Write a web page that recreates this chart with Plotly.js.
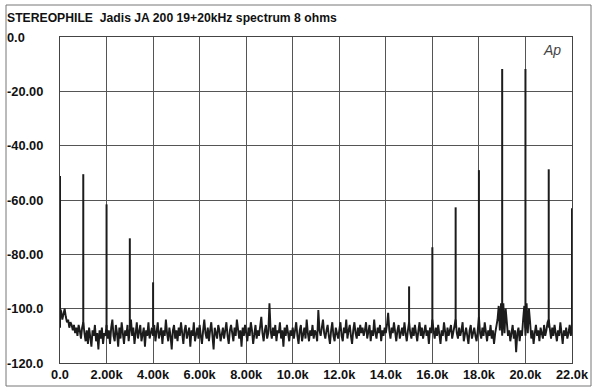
<!DOCTYPE html>
<html>
<head>
<meta charset="utf-8">
<script src="https://cdn.plot.ly/plotly-3.0.1.min.js"></script>
<style>html,body{margin:0;padding:0;background:#fff;}#chart{width:600px;height:390px;}</style>
</head>
<body>
<div id="chart"></div>
<script>
// Noise floor, dB, sampled every 50 Hz from 0 Hz to 22 kHz
const noiseStepHz = 50;
const noiseDb = [
-100,-101,-104,-102,-100,-103,-105,-104,-107,-105,-106,-108,-106,-109,-107,-110,-106,-108,-111,-107,
-105,-109,-112,-108,-113,-107,-111,-114,-108,-110,-106,-112,-109,-115,-108,-111,-107,-113,-109,-110,
-106,-111,-108,-113,-107,-104,-110,-112,-106,-109,-114,-107,-111,-105,-109,-113,-108,-110,-106,-112,
-108,-104,-110,-107,-113,-109,-105,-111,-108,-106,-112,-109,-107,-114,-108,-110,-105,-111,-109,-107,
-110,-106,-112,-108,-105,-111,-109,-107,-113,-108,-110,-104,-109,-112,-107,-110,-115,-108,-106,-111,
-108,-112,-107,-110,-105,-109,-113,-108,-106,-111,-109,-107,-114,-108,-110,-105,-112,-109,-107,-111,
-106,-110,-113,-108,-104,-109,-111,-107,-112,-108,-105,-110,-115,-107,-109,-111,-106,-108,-112,-109,
-107,-111,-108,-105,-110,-113,-108,-106,-109,-112,-107,-110,-104,-109,-111,-108,-114,-107,-110,-106,
-109,-112,-107,-110,-105,-108,-113,-109,-106,-111,-108,-110,-107,-103,-109,-112,-108,-106,-111,-109,
-98,-108,-111,-107,-110,-106,-112,-108,-109,-105,-111,-108,-114,-107,-110,-106,-109,-112,-108,-110,
-107,-111,-108,-105,-110,-113,-108,-106,-112,-109,-107,-111,-104,-109,-112,-108,-110,-106,-111,-108,
-109,-112,-100.5,-108,-110,-107,-104,-109,-111,-108,-106,-110,-113,-108,-105,-110,-112,-107,-109,-111,
-108,-105,-110,-112,-107,-109,-104,-111,-108,-106,-110,-113,-108,-105,-109,-111,-107,-110,-106,-109,
-107,-110,-108,-105,-111,-109,-106,-112,-108,-110,-104,-109,-111,-107,-109,-106,-112,-108,-110,-107,
-109,-106,-101.5,-108,-111,-107,-109,-105,-110,-112,-108,-106,-111,-109,-107,-110,-105,-109,-112,-108,
-105,-109,-111,-107,-110,-106,-109,-112,-108,-105,-110,-107,-111,-109,-106,-110,-108,-113,-107,-109,
-104,-108,-111,-107,-110,-106,-109,-113,-108,-110,-105,-109,-112,-107,-110,-108,-106,-111,-109,-107,
-104,-109,-111,-107,-110,-108,-105,-112,-109,-107,-110,-113,-108,-106,-111,-109,-107,-110,-112,-108,
-103,-109,-111,-107,-110,-105,-109,-112,-108,-110,-106,-111,-108,-113,-109,-107,-104,-99,-108,-98,
-110,-98,-109,-100,-104,-110,-108,-112,-109,-106,-111,-108,-116,-109,-107,-112,-108,-110,-104,-99,
-110,-98,-109,-100,-105,-111,-108,-113,-109,-106,-110,-108,-112,-107,-109,-111,-106,-110,-108,-105,
-104,-109,-111,-107,-110,-106,-109,-112,-108,-110,-105,-109,-113,-108,-110,-107,-111,-109,-106,-110,
-106
];

// Discrete tones / intermodulation products
const peakFreqHz = [0, 1000, 2000, 3000, 4000, 15000, 16000, 17000, 18000, 19000, 20000, 21000, 22000];
const peakDb     = [-51.2, -50.5, -61.6, -74.1, -90.3, -91.8, -77.4, -62.7, -49.0, -11.8, -11.8, -48.7, -63.0];
const peakFloorDb = -107;

const xTickVals = [0, 2000, 4000, 6000, 8000, 10000, 12000, 14000, 16000, 18000, 20000, 22000];
const xTickText = ["0.0", "2.00k", "4.00k", "6.00k", "8.00k", "10.0k", "12.0k", "14.0k", "16.0k", "18.0k", "20.0k", "22.0k"];
const yTickVals = [0, -20, -40, -60, -80, -100, -120];
const yTickText = ["0.0", "-20.00", "-40.00", "-60.00", "-80.00", "-100.0", "-120.0"];

const noiseX = noiseDb.map((_, i) => i * noiseStepHz);
const px = [], py = [];
peakFreqHz.forEach((f, i) => { px.push(f, f, null); py.push(peakFloorDb, peakDb[i], null); });

const FONT = '"Liberation Sans", Arial, Helvetica, sans-serif';
const ink = '#1c1c1c';

const traces = [
  {x: noiseX, y: noiseDb, type: 'scatter', mode: 'lines', line: {color: ink, width: 1.9}, hoverinfo: 'skip'},
  {x: px, y: py, type: 'scatter', mode: 'lines', line: {color: ink, width: 2}, connectgaps: false, hoverinfo: 'skip'}
];

const annotations = yTickVals.map((v, i) => ({
  xref: 'paper', yref: 'y', x: -0.107, y: v, xanchor: 'left', yanchor: 'middle',
  text: '<b>' + yTickText[i] + '</b>', showarrow: false,
  font: {family: FONT, size: 12.8, color: '#111'}
}));
annotations.push({
  xref: 'paper', yref: 'paper', x: 0.982, y: 0.99, xanchor: 'right', yanchor: 'top',
  text: '<i>Ap</i>', showarrow: false, font: {family: FONT, size: 14, color: '#444'}
});

const layout = {
  width: 600, height: 390,
  margin: {l: 60, r: 28, t: 37, b: 27, pad: 0},
  paper_bgcolor: '#fff', plot_bgcolor: '#fff',
  showlegend: false,
  font: {family: FONT, size: 13, color: '#111'},
  title: {
    text: '<b>STEREOPHILE  Jadis JA 200 19+20kHz spectrum 8 ohms</b>',
    xref: 'container', yref: 'container', x: 7/600, xanchor: 'left', y: 1 - 18/390, yanchor: 'middle',
    font: {family: FONT, size: 12.2, color: '#111'}
  },
  xaxis: {
    range: [0, 22000], tickvals: xTickVals, ticktext: xTickText.map(t => '<b>' + t + '</b>'),
    showgrid: true, gridcolor: '#555', gridwidth: 1,
    showline: true, linecolor: '#444', linewidth: 1, mirror: true,
    zeroline: false, ticks: '', tickfont: {family: FONT, size: 12.8, color: '#111'}
  },
  yaxis: {
    range: [-120, 0], tickvals: yTickVals, showticklabels: false,
    showgrid: true, gridcolor: '#555', gridwidth: 1,
    showline: true, linecolor: '#444', linewidth: 1, mirror: true,
    zeroline: false, ticks: ''
  },
  annotations: annotations,
  shapes: [{
    type: 'rect', xref: 'paper', yref: 'paper',
    x0: (6 - 60) / 512, x1: (591 - 60) / 512, y0: (363 - 386) / 326, y1: (363 - 5) / 326,
    line: {color: '#777', width: 1}, fillcolor: 'rgba(0,0,0,0)', layer: 'below'
  }]
};

Plotly.newPlot('chart', traces, layout, {staticPlot: true, displayModeBar: false});
</script>
</body>
</html>
